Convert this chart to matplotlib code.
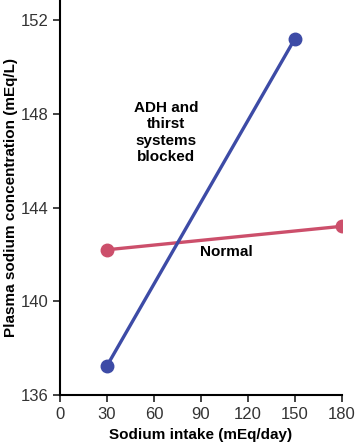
import matplotlib.pyplot as plt

plt.rcParams['font.family'] = ['Liberation Sans', 'DejaVu Sans']

intake = [30, 150]
blocked = [137.25, 151.2]
normal_x = [30, 180]
normal = [142.2, 143.2]
xticks = [0, 30, 60, 90, 120, 150, 180]
yticks = [136, 140, 144, 148, 152]

fig = plt.figure(figsize=(3.55, 4.44), dpi=100)
ax = fig.add_axes([0.169, 0.110, 0.794, 0.890])

ax.plot(intake, blocked, color='#3d4ba6', lw=2.4, marker='o', ms=9, zorder=3)
ax.plot(normal_x, normal, color='#cc4f6b', lw=2.4, marker='o', ms=9, zorder=2)

ax.set_xlim(0, 180)
ax.set_ylim(136, 152.85)
ax.set_xticks(xticks)
ax.set_yticks(yticks)
ax.tick_params(labelsize=12, colors='#333333', width=1.3, length=5)
ax.spines['top'].set_visible(False)
ax.spines['right'].set_visible(False)
ax.spines['left'].set_linewidth(1.5)
ax.spines['bottom'].set_linewidth(1.5)

ax.set_xlabel('Sodium intake (mEq/day)', fontsize=11, fontweight='bold', labelpad=4)
ax.set_ylabel('Plasma sodium concentration (mEq/L)', fontsize=11, fontweight='bold', labelpad=2)

ax.text(68, 147.2, 'ADH and\nthirst\nsystems\nblocked', ha='center', va='center',
        fontsize=11, fontweight='bold', linespacing=1.2)
ax.text(106, 142.1, 'Normal', ha='center', va='center', fontsize=11, fontweight='bold')

fig.savefig('out.png', dpi=100)
